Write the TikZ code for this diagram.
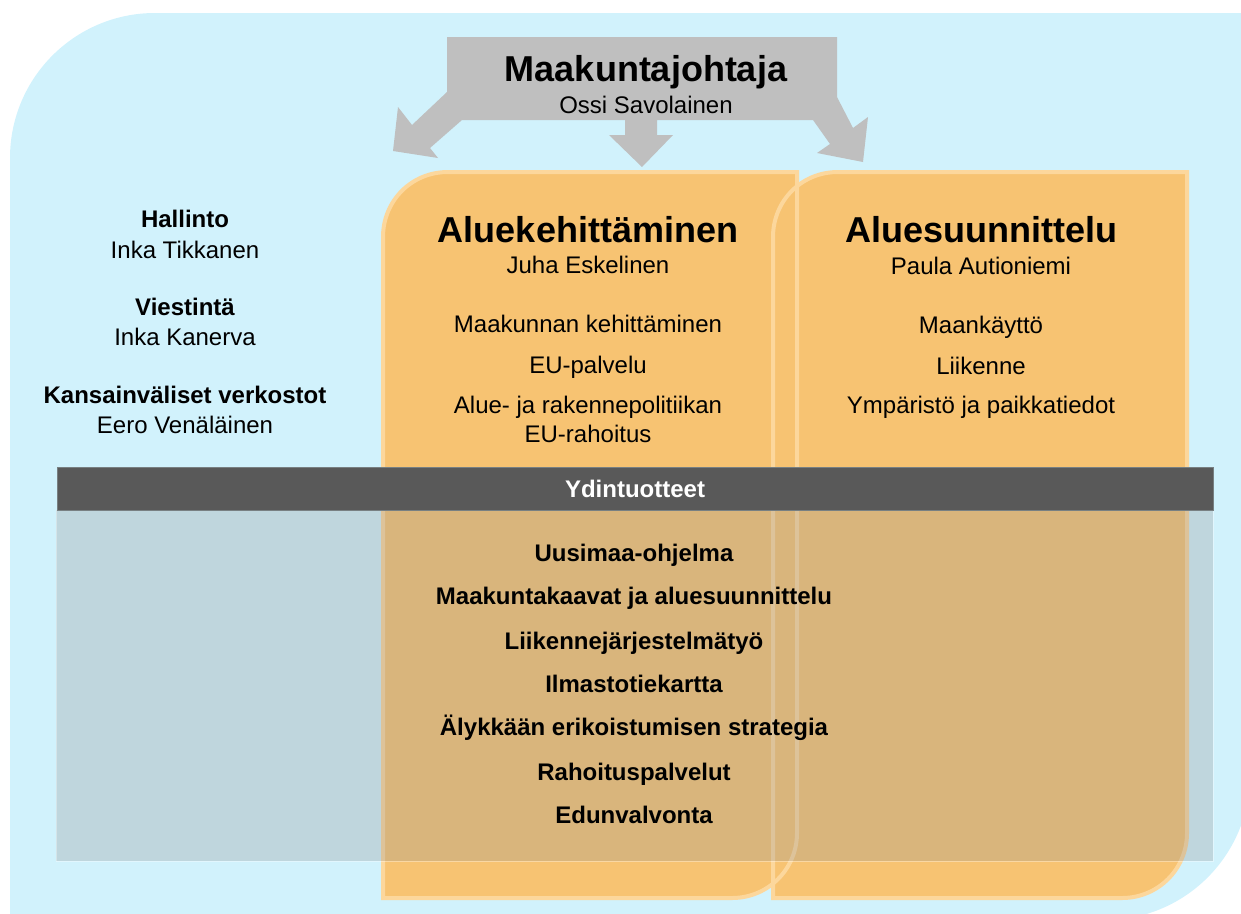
\documentclass[tikz,border=0pt]{standalone}
\usepackage{fontspec}
\setmainfont{Liberation Sans}
\definecolor{bgblue}{RGB}{209,242,252}
\definecolor{arrowgray}{RGB}{191,191,191}
\definecolor{panelfill}{RGB}{247,195,114}
\definecolor{panelline}{RGB}{252,215,156}
\definecolor{banddark}{RGB}{89,89,89}
\definecolor{bandline}{RGB}{120,128,130}
\definecolor{veil}{RGB}{150,150,150}
\begin{document}
\begin{tikzpicture}[x=1pt,y=-1pt,
  reg/.style={font=\fontsize{24}{28}\selectfont, anchor=base, inner sep=0pt},
  bld/.style={font=\fontsize{24}{28}\selectfont\bfseries, anchor=base, inner sep=0pt},
  ttl/.style={font=\fontsize{36}{40}\selectfont\bfseries, anchor=base, inner sep=0pt},
  panelbody/.style={fill=panelfill},
  panelrim/.style={draw=panelline, line width=4pt},
  veilbox/.style={fill=veil, fill opacity=0.3, draw=white, draw opacity=0.35, line width=1pt},
  bandbox/.style={fill=banddark, draw=bandline, line width=1pt}]
\useasboundingbox (0,0) rectangle (1241,913);
\clip (0,0) rectangle (1241,913);
% background
\fill[bgblue] (10,920) -- (10,158) .. controls (10,77.9) and (74.9,13) .. (155,13)
  -- (1250,13) -- (1250,775) .. controls (1250,855.1) and (1185.1,920) .. (1105,920) -- cycle;
% director arrow shape
\fill[arrowgray] (447,37) -- (837,37) -- (837,97) -- (853,128) -- (868,117) -- (863,162)
  -- (817,153) -- (830,144) -- (813,120) -- (657,120) -- (657,135) -- (673,135)
  -- (642,167) -- (609,135) -- (625,135) -- (625,120) -- (462,120) -- (430,148)
  -- (438,158) -- (393,151) -- (398,107) -- (412,125) -- (447,92) -- cycle;
\node[ttl] (johtaja) at (646,81) {Maakuntajohtaja};
\node[reg] (ossi) at (646,113) {Ossi Savolainen};
% panels
\path[panelbody] (383,237) .. controls (383,201.1) and (411.1,172) .. (448,172) -- (797,172)
  -- (797,833) .. controls (797,869.1) and (768.1,898) .. (732,898) -- (383,898) -- cycle;
\path[panelbody] (773,237) .. controls (773,201.1) and (801.1,172) .. (838,172) -- (1187,172)
  -- (1187,833) .. controls (1187,869.1) and (1158.1,898) .. (1122,898) -- (773,898) -- cycle;
\path[panelrim] (383,237) .. controls (383,201.1) and (411.1,172) .. (448,172) -- (797,172)
  -- (797,833) .. controls (797,869.1) and (768.1,898) .. (732,898) -- (383,898) -- cycle;
\path[panelrim] (773,237) .. controls (773,201.1) and (801.1,172) .. (838,172) -- (1187,172)
  -- (1187,833) .. controls (1187,869.1) and (1158.1,898) .. (1122,898) -- (773,898) -- cycle;
% left column
\node[bld] (hallinto) at (185,227) {Hallinto};
\node[reg] (tikkanen) at (185,258) {Inka Tikkanen};
\node[bld] (viestinta) at (185,315) {Viestintä};
\node[reg] (kanerva) at (185,345) {Inka Kanerva};
\node[bld] (kansainv) at (185,403) {Kansainväliset verkostot};
\node[reg] (venalainen) at (185,433) {Eero Venäläinen};
% left panel text
\node[ttl] (aluekeh) at (588,242) {Aluekehittäminen};
\node[reg] (eskelinen) at (588,273) {Juha Eskelinen};
\node[reg] (maakkeh) at (588,332) {Maakunnan kehittäminen};
\node[reg] (eupalv) at (588,373) {EU-palvelu};
\node[reg] (aluerak) at (588,413) {Alue- ja rakennepolitiikan};
\node[reg] (eurah) at (588,442) {EU-rahoitus};
% right panel text
\node[ttl] (aluesuun) at (981,242) {Aluesuunnittelu};
\node[reg] (autioniemi) at (981,274) {Paula Autioniemi};
\node[reg] (maankaytto) at (981,333) {Maankäyttö};
\node[reg] (liikenne) at (981,374) {Liikenne};
\node[reg] (ymparisto) at (981,413) {Ympäristö ja paikkatiedot};
% veil and band
\path[veilbox] (56,510) rectangle (1213,861);
\path[bandbox] (57,467) rectangle (1213,510);
\node[bld, text=white] (ydin) at (635,497) {Ydintuotteet};
% core products
\node[bld] (uusimaa) at (634,561) {Uusimaa-ohjelma};
\node[bld] (kaavat) at (634,604) {Maakuntakaavat ja aluesuunnittelu};
\node[bld] (ljs) at (634,649) {Liikennejärjestelmätyö};
\node[bld] (ilmasto) at (634,692) {Ilmastotiekartta};
\node[bld] (alykas) at (634,735) {Älykkään erikoistumisen strategia};
\node[bld] (rahoitus) at (634,780) {Rahoituspalvelut};
\node[bld] (edunv) at (634,823) {Edunvalvonta};
\end{tikzpicture}
\end{document}
